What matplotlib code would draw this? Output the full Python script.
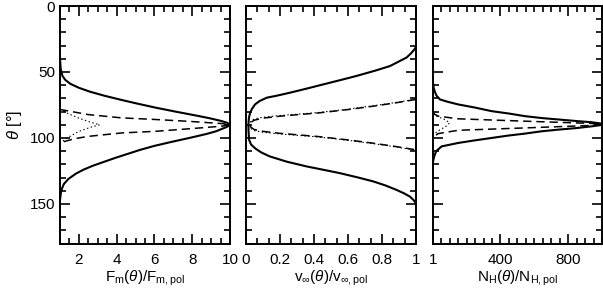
import matplotlib
matplotlib.use("Agg")
import matplotlib.pyplot as plt
from matplotlib.ticker import MultipleLocator, FixedLocator

plt.rcParams['font.family'] = ['Liberation Sans', 'DejaVu Sans']
plt.rcParams['mathtext.fontset'] = 'custom'
plt.rcParams['mathtext.rm'] = 'Liberation Sans'
plt.rcParams['mathtext.it'] = 'Liberation Sans:italic'
plt.rcParams['mathtext.bf'] = 'Liberation Sans:bold'
plt.rcParams['lines.scale_dashes'] = False

# ---------------- Panel 1: F_m(theta)/F_m,pol ----------------
f_solid_theta = [40, 48, 53, 56, 59, 62, 65, 68, 71, 74, 77, 80, 83, 85, 87, 88.5, 90,
                 91.5, 93, 95, 97, 100, 103, 106, 109, 112, 115, 118, 121, 124, 127, 131, 135, 140, 147]
f_solid_val = [1.0, 1.04, 1.13, 1.28, 1.55, 2.0, 2.6, 3.35, 4.2, 5.1, 6.05, 7.1, 8.2, 8.9, 9.5, 9.85, 10.0,
               9.85, 9.6, 9.25, 8.75, 7.85, 6.9, 6.0, 5.25, 4.6, 3.95, 3.35, 2.75, 2.25, 1.85, 1.45, 1.2, 1.06, 1.0]

f_dash_theta = [78.4, 80.5, 82.3, 84.8, 86, 87.4, 89.1, 90, 91.1, 93.1, 95, 96.2, 98.8, 100.5, 102.6, 104]
f_dash_val = [1.0, 1.8, 2.5, 4.27, 6.03, 7.8, 9.56, 10.0, 9.56, 7.8, 6.03, 4.27, 2.5, 1.8, 1.26, 1.0]

f_dot_theta = [78.4, 82, 85, 88, 90, 92, 95, 99, 103.8]
f_dot_val = [1.0, 1.5, 2.0, 2.6, 3.1, 2.6, 2.0, 1.5, 1.0]

# ---------------- Panel 2: v_inf(theta)/v_inf,pol ----------------
v_solid_theta = [31, 33, 36, 39, 42, 45.5, 49, 53, 56, 59.4, 62.5, 65.7, 68, 69.5, 72, 74.6, 78, 81, 85, 90,
                 95, 101.3, 105, 108, 111, 114, 118, 121.6, 124, 126.7, 130, 133, 136, 139.4, 142, 144.5, 147, 149.5]
v_solid_val = [1.0, 0.99, 0.97, 0.945, 0.9, 0.847, 0.76, 0.65, 0.56, 0.455, 0.36, 0.259, 0.18, 0.122, 0.08, 0.053,
               0.035, 0.024, 0.017, 0.014,
               0.015, 0.018, 0.03, 0.055, 0.09, 0.14, 0.24, 0.357, 0.45, 0.553, 0.66, 0.75, 0.82, 0.886, 0.93,
               0.965, 0.985, 1.0]

v_dash_theta = [70.8, 73, 75.9, 78.5, 81, 83.5, 85, 86.5, 88, 90, 92, 93.7, 95, 96.5, 99, 101.5, 104, 106.5, 109]
v_dash_val = [1.0, 0.9, 0.75, 0.6, 0.43, 0.2, 0.1, 0.05, 0.03, 0.02, 0.03, 0.05, 0.1, 0.2, 0.43, 0.6, 0.75, 0.88, 1.0]

v_dot_theta = [70.5, 72.8, 75.6, 78.2, 80.7, 83, 84.3, 85.5, 87, 90, 93, 94.5, 95.7, 97, 99.3, 101.8, 104.3, 106.8, 109.3]
v_dot_val = [1.0, 0.9, 0.75, 0.6, 0.43, 0.2, 0.1, 0.05, 0.03, 0.02, 0.03, 0.05, 0.1, 0.2, 0.43, 0.6, 0.75, 0.88, 1.0]

# ---------------- Panel 3: N_H(theta)/N_H,pol ----------------
n_solid_theta = [58, 62, 65, 68, 70.8, 72.5, 74.6, 77, 79.7, 81.5, 83.5, 85, 86, 87.2, 88.1, 89, 89.6,
                 90.3, 91.2, 92.5, 93.7, 95, 96.7, 98.3, 100, 102, 103.8, 106.4, 110, 114, 118]
n_solid_val = [1, 5, 12, 22, 42, 85, 150, 250, 348, 450, 545, 650, 742, 850, 939, 990, 1000,
               990, 939, 850, 742, 640, 545, 440, 348, 240, 150, 52, 20, 8, 1]

n_dash_theta = [80, 82, 83.5, 85.5, 87.3, 89, 89.7, 90.5, 92.4, 94.2, 96.7, 98.5, 100]
n_dash_val = [1, 10, 32, 150, 545, 939, 1000, 939, 545, 150, 32, 10, 1]

n_dot_theta = [82, 84, 86, 88.6, 91, 94, 97.5]
n_dot_val = [1, 30, 70, 100, 80, 40, 1]

# ---------------- Figure ----------------
W, H = 603, 290
fig = plt.figure(figsize=(W / 100, H / 100), dpi=100)

bottom = 46.5 / H
height = 237.5 / H
ax1 = fig.add_axes([60 / W, bottom, 170 / W, height])
ax2 = fig.add_axes([246 / W, bottom, 170 / W, height])
ax3 = fig.add_axes([433 / W, bottom, 169 / W, height])

solid_kw = dict(color='black', lw=1.5, ls='-')
dash_kw = dict(color='black', lw=1.1, ls=(0, (6, 3.5)))
dot_kw = dict(color='black', lw=0.8, ls=(0, (1, 1.8)))

ax1.plot(f_solid_val, f_solid_theta, **solid_kw)
ax1.plot(f_dash_val, f_dash_theta, **dash_kw)
ax1.plot(f_dot_val, f_dot_theta, **dot_kw)

ax2.plot(v_solid_val, v_solid_theta, **solid_kw)
ax2.plot(v_dash_val, v_dash_theta, **dash_kw)
ax2.plot(v_dot_val, v_dot_theta, **dot_kw)

ax3.plot(n_solid_val, n_solid_theta, **solid_kw)
ax3.plot(n_dash_val, n_dash_theta, **dash_kw)
ax3.plot(n_dot_val, n_dot_theta, **dot_kw)

ax1.set_xlim(1, 10)
ax1.xaxis.set_major_locator(FixedLocator([2, 4, 6, 8, 10]))
ax1.xaxis.set_minor_locator(MultipleLocator(0.5))

ax2.set_xlim(0, 1)
ax2.xaxis.set_major_locator(FixedLocator([0, 0.2, 0.4, 0.6, 0.8, 1.0]))
ax2.xaxis.set_minor_locator(MultipleLocator(0.2 / 3))
ax2.set_xticklabels(['0', '0.2', '0.4', '0.6', '0.8', '1'])

ax3.set_xlim(1, 1000)
ax3.xaxis.set_major_locator(FixedLocator([1, 400, 800]))
ax3.xaxis.set_minor_locator(MultipleLocator(50))

for ax in (ax1, ax2, ax3):
    ax.set_ylim(180, 0)
    ax.yaxis.set_major_locator(FixedLocator([0, 50, 100, 150]))
    ax.yaxis.set_minor_locator(MultipleLocator(10))
    ax.tick_params(which='both', direction='in', top=True, right=True,
                   labelsize=11, width=1.2, color='black')
    ax.tick_params(which='major', length=7.5)
    ax.tick_params(which='minor', length=4)
    ax.tick_params(axis='x', pad=7)
    for s in ax.spines.values():
        s.set_linewidth(1.4)

ax2.tick_params(labelleft=False)
ax3.tick_params(labelleft=False)

ax1.set_ylabel(r'$\theta$ [°]', fontsize=12, labelpad=4)
ax1.set_xlabel(r'F$_{\rm m}$($\theta$)/F$_{\rm m,pol}$', fontsize=11, labelpad=1)
ax2.set_xlabel(r'v$_\infty$($\theta$)/v$_{\infty,\rm pol}$', fontsize=11, labelpad=1)
ax3.set_xlabel(r'N$_{\rm H}$($\theta$)/N$_{\rm H,pol}$', fontsize=11, labelpad=1)

fig.savefig('out.png', dpi=100)
